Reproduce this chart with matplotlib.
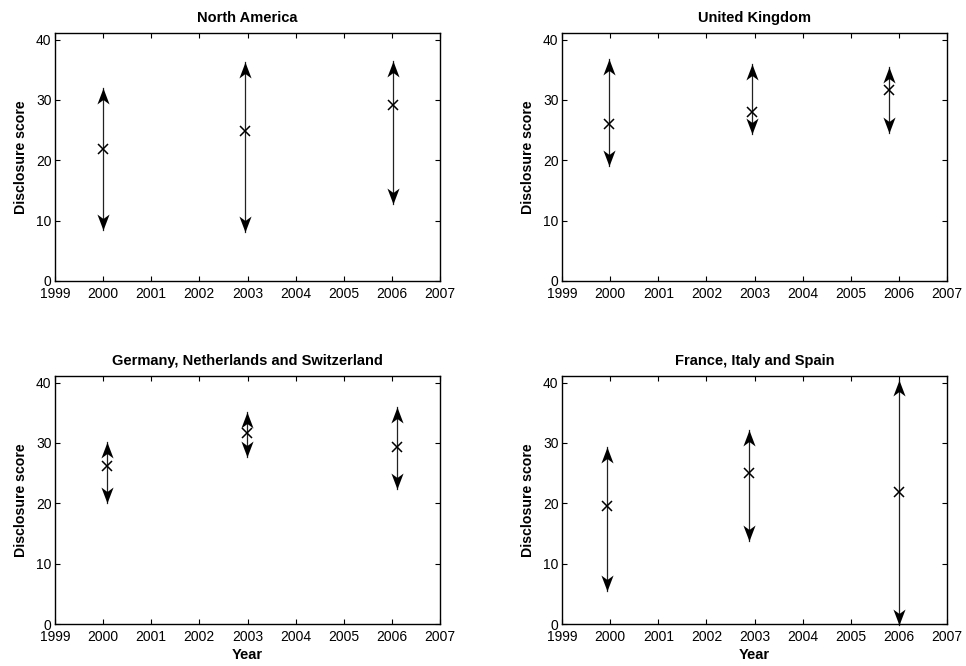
import matplotlib
matplotlib.use("Agg")
import matplotlib.pyplot as plt
from matplotlib.path import Path
import numpy as np

plt.rcParams['font.family'] = ['Liberation Sans', 'DejaVu Sans']

titles = ["North America", "United Kingdom",
          "Germany, Netherlands and Switzerland", "France, Italy and Spain"]

# x positions (year), centre value, upper arrow tip, lower arrow tip
na_year = [2000.0, 2002.95, 2006.03]
na_mid = [21.8, 24.9, 29.2]
na_hi = [32.0, 36.3, 36.4]
na_lo = [8.5, 8.2, 12.8]

uk_year = [1999.97, 2002.94, 2005.8]
uk_mid = [26.1, 28.0, 31.6]
uk_hi = [36.8, 35.9, 35.5]
uk_lo = [19.0, 24.3, 24.6]

gns_year = [2000.08, 2002.98, 2006.1]
gns_mid = [26.2, 31.6, 29.4]
gns_hi = [30.2, 35.2, 35.9]
gns_lo = [20.0, 27.6, 22.4]

fis_year = [1999.93, 2002.88, 2006.0]
fis_mid = [19.5, 25.1, 21.9]
fis_hi = [29.3, 32.1, 40.5]
fis_lo = [5.4, 13.8, -0.2]

panels = [
    (na_year, na_mid, na_hi, na_lo),
    (uk_year, uk_mid, uk_hi, uk_lo),
    (gns_year, gns_mid, gns_hi, gns_lo),
    (fis_year, fis_mid, fis_hi, fis_lo),
]

xticks = list(range(1999, 2008))
yticks = [0, 10, 20, 30, 40]

# swept-back arrowhead markers (tip at origin)
up_head = Path([(0, 0), (0.38, -1.0), (0, -0.72), (-0.38, -1.0), (0, 0)],
               [Path.MOVETO, Path.LINETO, Path.LINETO, Path.LINETO, Path.CLOSEPOLY])
down_head = Path([(0, 0), (0.38, 1.0), (0, 0.72), (-0.38, 1.0), (0, 0)],
                 [Path.MOVETO, Path.LINETO, Path.LINETO, Path.LINETO, Path.CLOSEPOLY])

fig = plt.figure(figsize=(9.66, 6.66), dpi=100)
W, H = 966, 666
rects = [
    (55, 33, 440, 281),
    (562, 33, 947, 281),
    (55, 376, 440, 624),
    (562, 376, 947, 624),
]

for i, (rect, title, data) in enumerate(zip(rects, titles, panels)):
    l, t, r, b = rect
    ax = fig.add_axes([l / W, (H - b) / H, (r - l) / W, (b - t) / H])
    yrs, mid, hi, lo = data
    for x, m, h, lw_ in zip(yrs, mid, hi, lo):
        ax.plot([x, x], [lw_, h], color='#222222', lw=0.9, clip_on=False, zorder=2)
        ax.plot([x], [h], marker=up_head, markersize=23, color='black',
                markeredgewidth=0, clip_on=False, zorder=3)
        ax.plot([x], [lw_], marker=down_head, markersize=23, color='black',
                markeredgewidth=0, clip_on=False, zorder=3)
    ax.plot(yrs, mid, linestyle='none', marker='x', markersize=7,
            markeredgewidth=1.1, color='black', zorder=4)
    ax.set_xlim(1999, 2007)
    ax.set_ylim(0, 41.1)
    ax.set_xticks(xticks)
    ax.set_yticks(yticks)
    ax.tick_params(direction='in', top=True, right=True, length=3.5,
                   width=0.8, labelsize=10, colors='black')
    ax.tick_params(axis='x', pad=4.0)
    ax.tick_params(axis='y', pad=2.5)
    for s in ax.spines.values():
        s.set_linewidth(1.0)
    ax.set_title(title, fontsize=10.5, fontweight='bold', pad=8)
    ax.set_ylabel('Disclosure score', fontsize=10.2, fontweight='bold', labelpad=6)
    if i >= 2:
        ax.set_xlabel('Year', fontsize=10.5, fontweight='bold', labelpad=3)

fig.savefig('out.png', dpi=100)
